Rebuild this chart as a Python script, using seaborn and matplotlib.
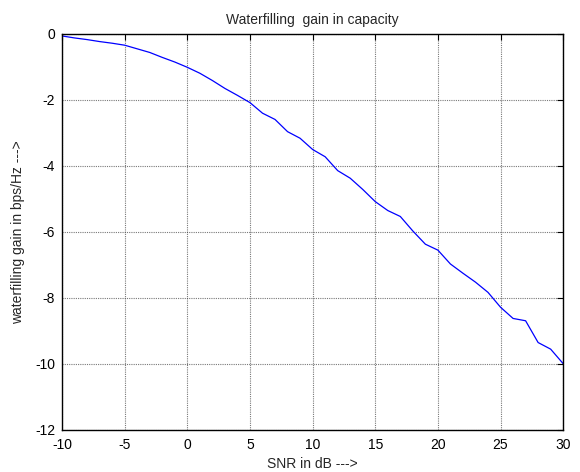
import numpy as np
import pandas as pd
import seaborn as sns
import matplotlib
matplotlib.use("Agg")
import matplotlib.pyplot as plt

# SNR in dB and the waterfilling gain
snr_db = list(range(-10, 31))
gain = [-0.06, -0.12, -0.17, -0.23, -0.28, -0.34, -0.45, -0.56, -0.71, -0.85,
        -1.01, -1.19, -1.41, -1.65, -1.86, -2.08, -2.40, -2.59, -2.96, -3.16,
        -3.50, -3.72, -4.14, -4.37, -4.71, -5.08, -5.35, -5.53, -5.97, -6.37,
        -6.55, -6.97, -7.25, -7.52, -7.83, -8.28, -8.62, -8.69, -9.35, -9.55,
        -9.99]
x_ticks = [-10, -5, 0, 5, 10, 15, 20, 25, 30]
y_ticks = [0, -2, -4, -6, -8, -10, -12]

df = pd.DataFrame({"snr": snr_db, "gain": gain})

sns.set_style("white")
plt.rcParams["font.family"] = ["Liberation Sans", "DejaVu Sans"]
plt.rcParams["axes.unicode_minus"] = False

fig = plt.figure(figsize=(5.8, 4.72), dpi=100)
ax = fig.add_axes([0.107, 0.089, 0.864, 0.839])

sns.lineplot(data=df, x="snr", y="gain", color="blue", linewidth=0.9, ax=ax)

ax.set_xlim(-10, 30)
ax.set_ylim(-12, 0)
ax.set_xticks(x_ticks)
ax.set_yticks(y_ticks)
ax.grid(True, color="0.25", linestyle=(0, (1, 1)), linewidth=0.8, alpha=0.7)
ax.tick_params(direction="in", length=4, labelsize=10, top=True, right=True,
               width=0.8, colors="black")
ax.tick_params(axis="x", pad=5.5)
ax.tick_params(axis="y", pad=5)
for s in ax.spines.values():
    s.set_color("black")
    s.set_linewidth(1.0)

ax.set_title("Waterfilling  gain in capacity", fontsize=10, pad=7)
ax.set_xlabel("SNR in dB --->", fontsize=10, labelpad=4)
ax.set_ylabel("waterfilling gain in bps/Hz --->", fontsize=10, labelpad=7)

fig.savefig("out.png", dpi=100, facecolor="white")
